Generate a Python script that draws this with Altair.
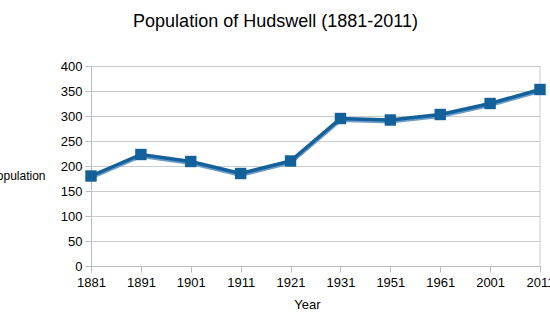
import altair as alt
import pandas as pd

years = ["1881", "1891", "1901", "1911", "1921", "1931", "1951", "1961", "2001", "2011"]
population = [180, 223, 209, 185, 210, 295, 292, 303, 325, 353]

df = pd.DataFrame({"Year": years, "Population": population})

FONT = "Liberation Sans"
COLOR = "#13609a"

x = alt.X("Year:O", sort=years, scale=alt.Scale(type="point", padding=0),
          axis=alt.Axis(title="Year", labelAngle=0, labelFontSize=13, labelColor="#000",
                        labelFont=FONT, titleFont=FONT, titleFontSize=13, titleFontWeight="normal",
                        titleColor="#000", titlePadding=9, titleX=216,
                        domainColor="#bdbdbd", tickColor="#bdbdbd", tickSize=6,
                        grid=False, labelPadding=4))
y = alt.Y("Population:Q", scale=alt.Scale(domain=[0, 400], nice=False),
          axis=alt.Axis(title="Population", values=list(range(0, 401, 50)), labelFontSize=13,
                        labelColor="#000", labelFont=FONT, titleFont=FONT, titleFontSize=12,
                        titleFontWeight="normal", titleColor="#000", titleAngle=0,
                        titleAlign="right", titleBaseline="middle", titleX=-46, titleY=109,
                        domainColor="#bdbdbd", tickColor="#bdbdbd", tickSize=6,
                        gridColor="#cccccc", labelPadding=3))

base = alt.Chart(df)
shadow = base.mark_line(color="#6a9cc8", strokeWidth=4, yOffset=1.5).encode(x=x, y=y)
line = base.mark_line(color=COLOR, strokeWidth=3.5).encode(x=x, y=y)
pts = base.mark_point(shape="square", filled=True, size=130, color=COLOR, opacity=1).encode(x=x, y=y)

right = alt.Chart(pd.DataFrame({"v": [0]})).mark_rule(color="#cccccc").encode(
    x=alt.value(449), y=alt.value(0), y2=alt.value(200))

chart = alt.layer(right, shadow, line, pts).properties(
    width=449, height=200,
    title=alt.TitleParams("Population of Hudswell (1881-2011)", font=FONT, fontSize=18,
                          fontWeight="normal", color="#000", anchor="middle", dx=-40, offset=29),
    autosize=alt.AutoSizeParams(type="none"),
    padding={"left": 91, "top": 66, "right": 10, "bottom": 66},
).configure_view(stroke=None)

chart.save("out.html", embed_options={"renderer": "svg", "actions": False})
